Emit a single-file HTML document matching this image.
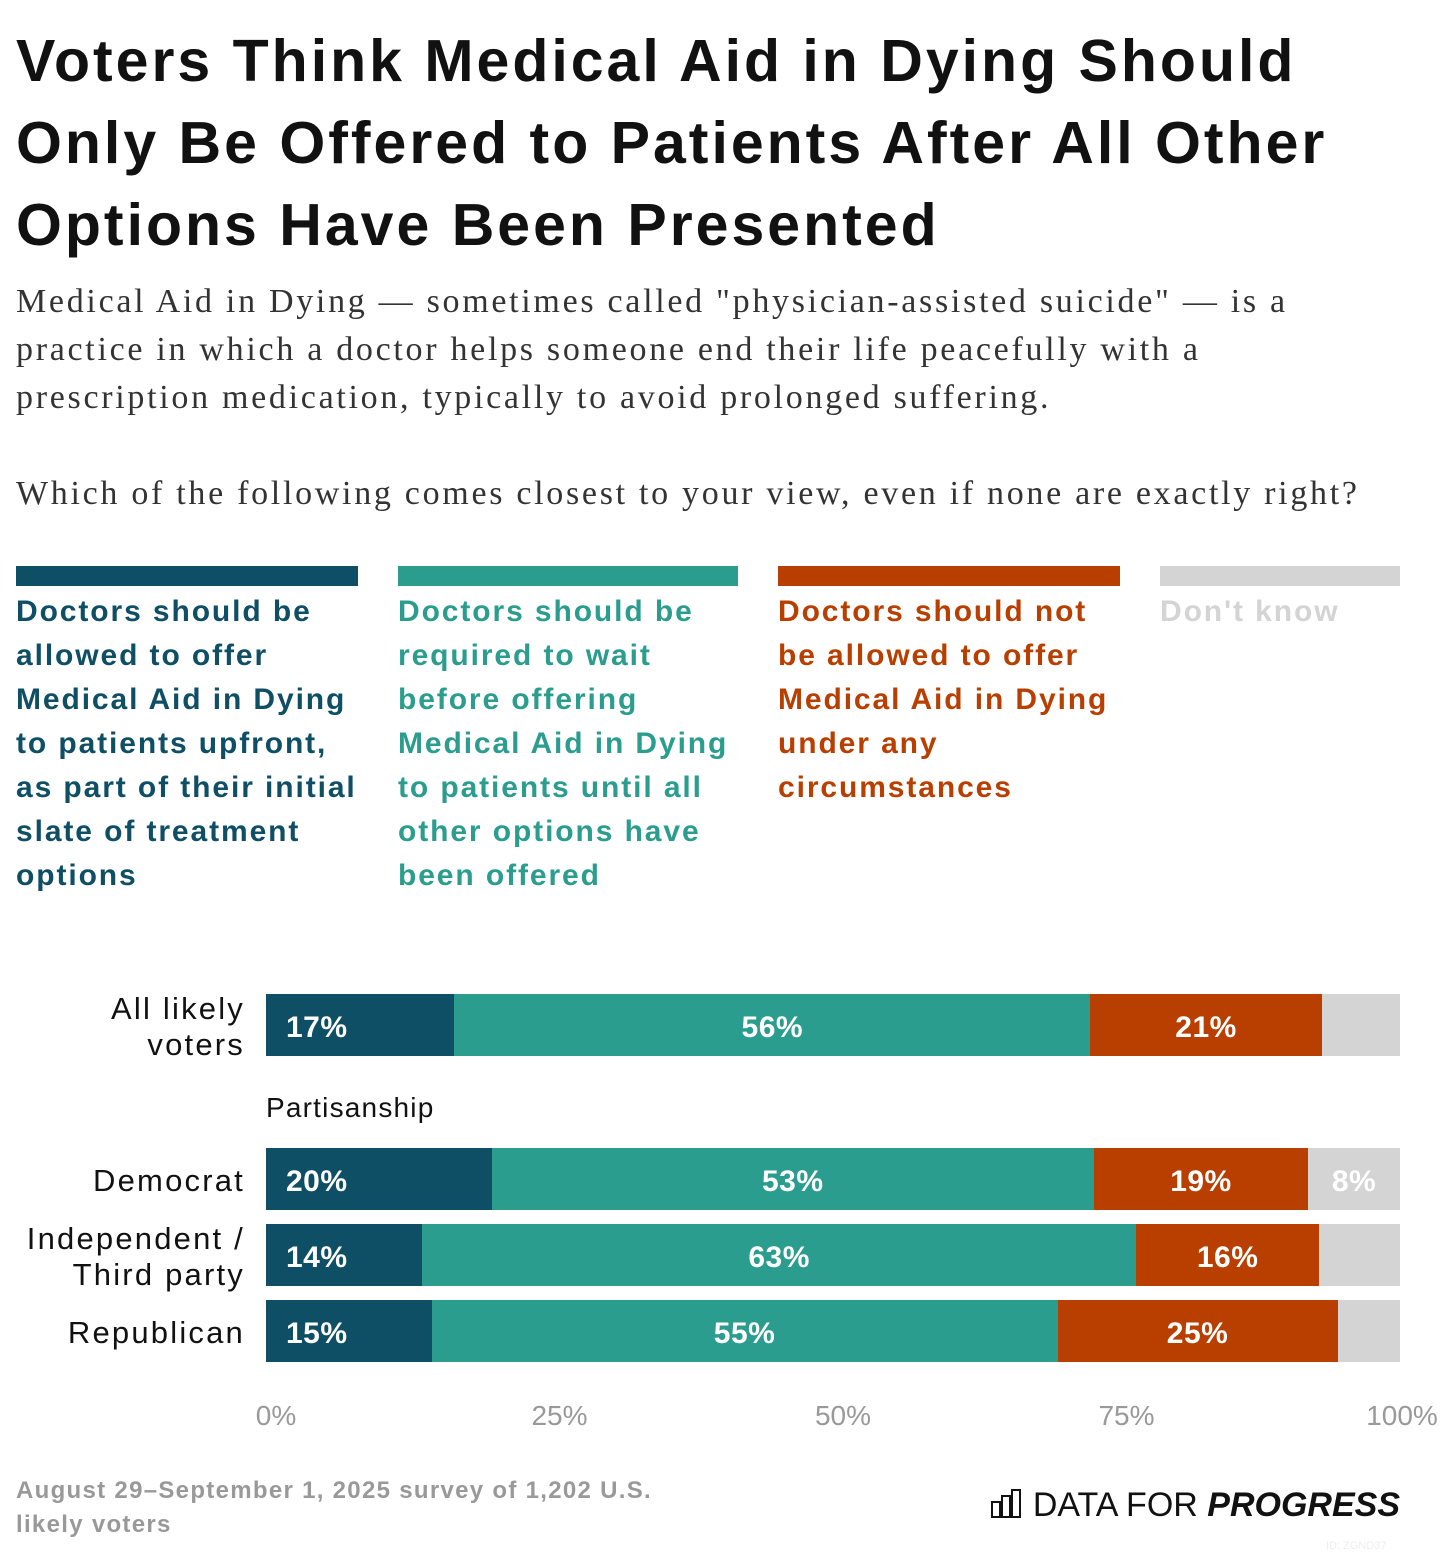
<!DOCTYPE html>
<html><head><meta charset="utf-8">
<style>
body{margin:0;width:1440px;height:1556px;background:#fff;position:relative;font-family:"Liberation Sans",sans-serif;overflow:hidden}
.abs{position:absolute}
h1{position:absolute;left:16px;top:20px;margin:0;font-size:59px;line-height:82px;font-weight:700;color:#111;letter-spacing:3px;white-space:nowrap}
.sub{left:16px;font-family:"Liberation Serif",serif;font-size:34px;line-height:48px;color:#333;letter-spacing:2.7px;white-space:nowrap}
.lg{top:566px;height:20px}
.lt{top:590px;font-size:30px;line-height:44px;font-weight:700;letter-spacing:1.9px;white-space:nowrap}
.rl{right:1195px;text-align:right;font-size:31px;line-height:36px;color:#111;letter-spacing:2.2px;white-space:nowrap}
.ax{top:1400px;font-size:28px;color:#999;transform:translateX(-50%)}
</style></head><body>
<h1>Voters Think Medical Aid in Dying Should<br>Only Be Offered to Patients After All Other<br>Options Have Been Presented</h1>
<div class="abs sub" style="top:278px">Medical Aid in Dying — sometimes called "physician-assisted suicide" — is a<br>practice in which a doctor helps someone end their life peacefully with a<br>prescription medication, typically to avoid prolonged suffering.</div>
<div class="abs sub" style="top:470px">Which of the following comes closest to your view, even if none are exactly right?</div>

<div class="abs lg" style="left:16px;width:342px;background:#0f4f66"></div>
<div class="abs lt" style="left:16px;color:#0f4f66">Doctors should be<br>allowed to offer<br>Medical Aid in Dying<br>to patients upfront,<br>as part of their initial<br>slate of treatment<br>options</div>
<div class="abs lg" style="left:398px;width:340px;background:#2a9d8f"></div>
<div class="abs lt" style="left:398px;color:#2a9d8f">Doctors should be<br>required to wait<br>before offering<br>Medical Aid in Dying<br>to patients until all<br>other options have<br>been offered</div>
<div class="abs lg" style="left:778px;width:342px;background:#b93f00"></div>
<div class="abs lt" style="left:778px;color:#b93f00">Doctors should not<br>be allowed to offer<br>Medical Aid in Dying<br>under any<br>circumstances</div>
<div class="abs lg" style="left:1160px;width:240px;background:#d4d4d4"></div>
<div class="abs lt" style="left:1160px;color:#d4d4d4">Don't know</div>

<div class="abs" style="left:266px;top:1092px;font-size:28px;color:#111;letter-spacing:1.2px">Partisanship</div>
<div id="chart"></div>
<div class="abs" style="left:16px;top:1474px;font-size:24px;line-height:34px;font-weight:700;color:#999;letter-spacing:1.3px;white-space:nowrap">August 29–September 1, 2025 survey of 1,202 U.S.<br>likely voters</div>
<div class="abs" style="right:40px;top:1486px;font-size:34px;color:#111;white-space:nowrap"><svg width="32" height="30" viewBox="0 0 32 30" style="vertical-align:-2px"><g fill="none" stroke="#111" stroke-width="2"><rect x="1" y="14" width="8" height="15"/><rect x="11" y="8" width="8" height="21"/><rect x="21" y="2" width="8" height="27"/></g></svg> DATA FOR <b><i>PROGRESS</i></b></div>
<div class="abs" style="left:1326px;top:1540px;font-size:11px;color:#eee">ID: ZGND37</div>
<script>
const categories=["All likely voters","Democrat","Independent / Third party","Republican"];
const upfront=[16.6,19.9,13.8,14.6];
const wait=[56.1,53.1,62.9,55.2];
const notAllowed=[20.4,18.9,16.2,24.7];
const dontKnow=[6.9,8.1,7.1,5.5];
const upfrontLabels=["17%","20%","14%","15%"];
const waitLabels=["56%","53%","63%","55%"];
const notAllowedLabels=["21%","19%","16%","25%"];
const dontKnowLabels=["","8%","",""];
const ticks=[0,25,50,75,100];
const tickLabels=["0%","25%","50%","75%","100%"];
const catLines=[["All likely","voters"],["Democrat"],["Independent /","Third party"],["Republican"]];
const X0=266,W=1134,rowTops=[994,1148,1224,1300],BH=62;
const x=v=>X0+v/100*W;
const chart=document.getElementById('chart');
const series=[[upfront,upfrontLabels,"#0f4f66","upfront"],[wait,waitLabels,"#2a9d8f","wait"],[notAllowed,notAllowedLabels,"#b93f00","not-allowed"],[dontKnow,dontKnowLabels,"#d4d4d4","dont-know"]];
categories.forEach((c,i)=>{
  const top=rowTops[i];
  const lab=document.createElement('div');
  lab.className='abs rl';
  lab.innerHTML=catLines[i].join('<br>');
  const n=catLines[i].length;
  lab.style.top=(top+BH/2-n*18+2)+'px';
  
  
  chart.appendChild(lab);
  let cum=0;
  series.forEach((s,k)=>{
    const v=s[0][i];
    const seg=document.createElement('div');
    seg.className='abs';
    const l=x(cum),r=x(cum+v);
    seg.style.cssText=`left:${l}px;top:${top}px;width:${r-l}px;height:${BH}px;background:${s[2]};color:#fff;font-weight:700;font-size:30px;line-height:${BH+6}px;text-align:${k==0?'left':'center'};box-sizing:border-box;padding-left:${k==0?20:0}px;white-space:nowrap;letter-spacing:0.5px`;
    seg.textContent=s[1][i];
    
    
    chart.appendChild(seg);
    cum+=v;
  });
});
ticks.forEach((t,i)=>{
  const d=document.createElement('div');
  d.className='abs ax';
  d.style.left=(x(t)+(i==4?2:10))+'px';
  d.textContent=tickLabels[i];
  
  
  chart.appendChild(d);
});
</script>
</body></html>
